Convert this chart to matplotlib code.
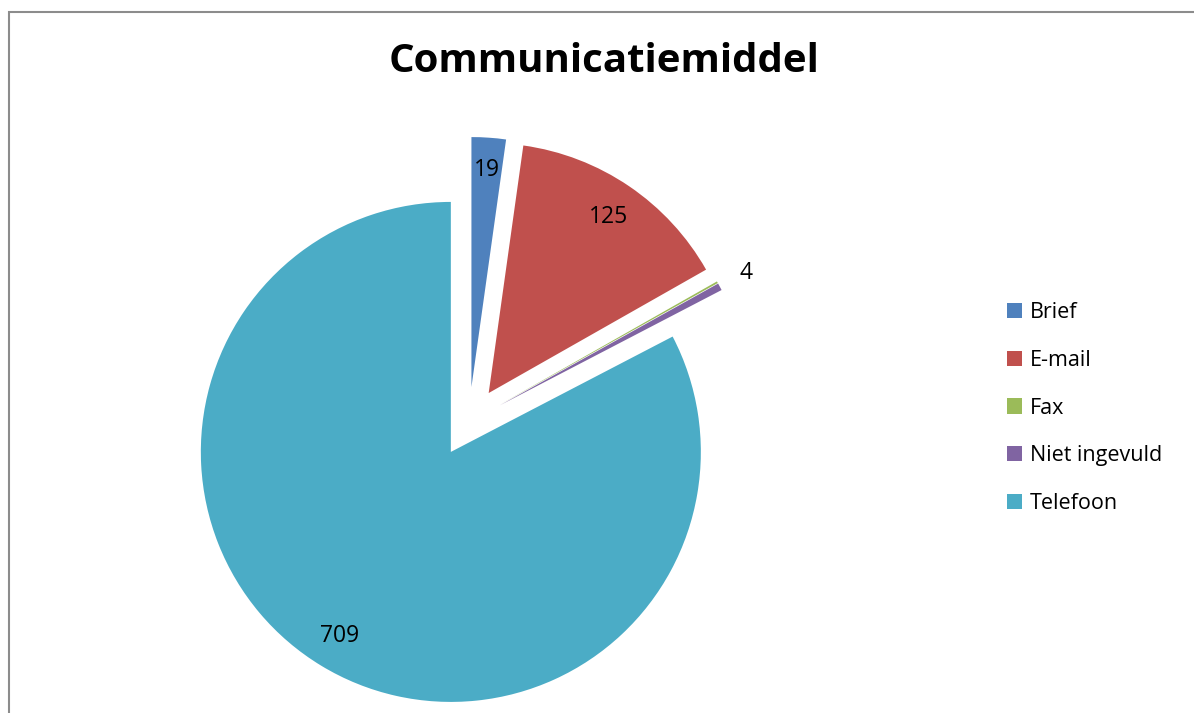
from matplotlib import pyplot as plt
from matplotlib.patches import Rectangle
import numpy as np

plt.rcParams['font.family'] = ['Open Sans', 'DejaVu Sans']

categorieen = ['Brief', 'E-mail', 'Fax', 'Niet ingevuld', 'Telefoon']
aantallen = [19, 125, 1, 4, 709]
labels = ['19', '125', '', '4', '709']
kleuren = ['#4F81BD', '#C0504D', '#9BBB59', '#8064A2', '#4BACC6']

W, H = 1194, 713
fig = plt.figure(figsize=(W / 100, H / 100), dpi=100)
ax = fig.add_axes([0, 0, 1, 1])

wedges, _ = ax.pie(aantallen, colors=kleuren, startangle=90, counterclock=False,
                   explode=[0.14] * len(aantallen), radius=1.0,
                   wedgeprops={'linewidth': 0})

# straal 250 px, middelpunt op (469, 422) px (na pie(), dat zelf limieten zet)
schaal = 250.0
cx, cy = 469, 422
ax.set_xlim(-cx / schaal, (W - cx) / schaal)
ax.set_ylim(-(H - cy) / schaal, cy / schaal)
ax.set_aspect('equal')
ax.axis('off')

# waardelabels: binnen de taart, behalve voor de kleine schijfjes
afstanden = [0.87, 0.85, 1.12, 1.12, 0.86]
for w, lab, d in zip(wedges, labels, afstanden):
    if not lab:
        continue
    hoek = np.deg2rad((w.theta1 + w.theta2) / 2)
    x = w.center[0] + d * w.r * np.cos(hoek)
    y = w.center[1] + d * w.r * np.sin(hoek)
    ax.text(x, y, lab, ha='center', va='center', fontsize=16.5, color='black')

fig.text(604 / W, 1 - 62 / H, 'Communicatiemiddel', ha='center', va='center',
         fontsize=29, fontweight='bold')

fig.legend(wedges, categorieen, loc='center left',
           bbox_to_anchor=(1007 / W, 1 - 408 / H), frameon=False,
           fontsize=15.5, labelspacing=1.25, handlelength=0.7, handleheight=0.7,
           handletextpad=0.35, borderpad=0, borderaxespad=0)

# kader rond de grafiek
fig.patches.append(Rectangle((9 / W, -0.1), 1.2, 1.1 - 12 / H, transform=fig.transFigure,
                             fill=False, edgecolor='#8c8c8c', linewidth=1.5))

fig.savefig('out.png', dpi=100)
